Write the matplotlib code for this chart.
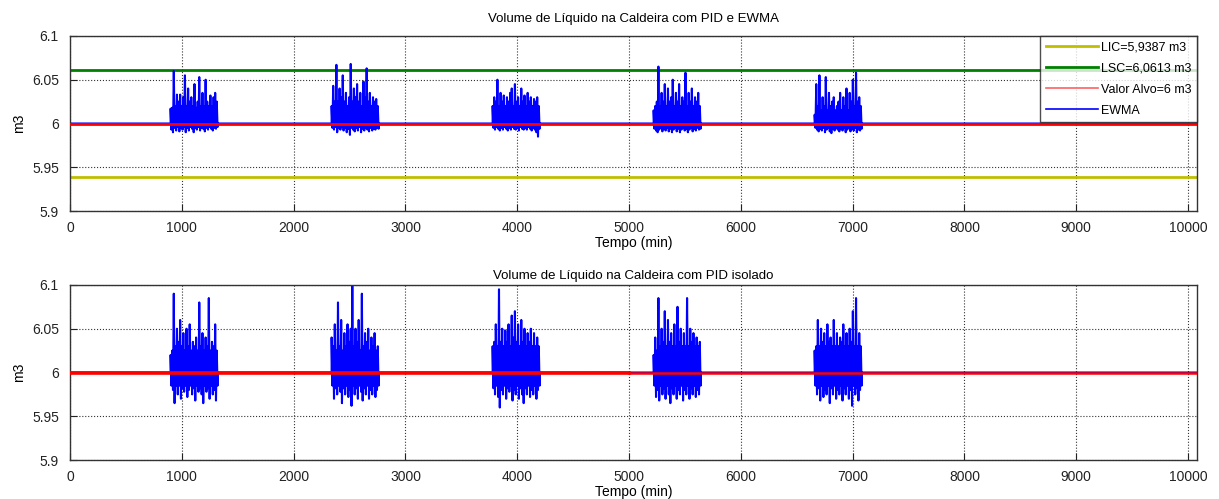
import numpy as np
import matplotlib.pyplot as plt

plt.rcParams['font.family'] = ['Liberation Sans', 'DejaVu Sans']

# control limits
lic = 5.9387
lsc = 6.0613
alvo = 6.0
t_max = 10080

# disturbance windows (min)
burst_start = [900, 2340, 3780, 5220, 6660]
burst_end = [1320, 2760, 4200, 5640, 7080]

# EWMA peaks (upper / lower per burst)
ewma_up = [
    [6.017, 6.018, 6.060, 6.020, 6.033, 6.025, 6.033, 6.020, 6.030, 6.055, 6.020, 6.040, 6.025, 6.030, 6.020,
     6.045, 6.018, 6.025, 6.053, 6.020, 6.035, 6.020, 6.050, 6.025, 6.020, 6.032, 6.020, 6.030, 6.035, 6.025],
    [6.020, 6.043, 6.025, 6.067, 6.025, 6.040, 6.030, 6.055, 6.025, 6.035, 6.020, 6.030, 6.068, 6.025, 6.040,
     6.030, 6.045, 6.025, 6.035, 6.020, 6.048, 6.030, 6.063, 6.025, 6.035, 6.020, 6.030, 6.025, 6.028, 6.020],
    [6.020, 6.030, 6.025, 6.050, 6.020, 6.035, 6.025, 6.032, 6.020, 6.030, 6.025, 6.035, 6.040, 6.020, 6.045,
     6.025, 6.030, 6.020, 6.040, 6.025, 6.032, 6.020, 6.035, 6.025, 6.030, 6.020, 6.028, 6.025, 6.030, 6.020],
    [6.015, 6.020, 6.025, 6.065, 6.020, 6.035, 6.025, 6.045, 6.020, 6.040, 6.025, 6.030, 6.050, 6.020, 6.035,
     6.025, 6.045, 6.020, 6.030, 6.025, 6.058, 6.020, 6.035, 6.025, 6.040, 6.020, 6.030, 6.025, 6.035, 6.020],
    [6.010, 6.045, 6.020, 6.055, 6.015, 6.030, 6.020, 6.053, 6.015, 6.035, 6.020, 6.025, 6.030, 6.015, 6.020,
     6.025, 6.035, 6.015, 6.030, 6.020, 6.040, 6.015, 6.035, 6.025, 6.050, 6.020, 6.058, 6.025, 6.030, 6.020],
]
ewma_lo = [
    [5.993, 5.990, 5.995, 5.992, 5.996, 5.991, 5.995, 5.993, 5.996, 5.990, 5.995, 5.992, 5.996, 5.994, 5.990,
     5.995, 5.993, 5.996, 5.992, 5.995, 5.994, 5.991, 5.995, 5.993, 5.996, 5.994, 5.992, 5.995, 5.994, 5.996],
    [5.995, 5.993, 5.996, 5.990, 5.995, 5.993, 5.996, 5.992, 5.995, 5.990, 5.994, 5.987, 5.995, 5.993, 5.991,
     5.995, 5.992, 5.996, 5.990, 5.994, 5.992, 5.995, 5.993, 5.991, 5.995, 5.992, 5.994, 5.993, 5.995, 5.994],
    [5.995, 5.993, 5.996, 5.994, 5.992, 5.995, 5.993, 5.996, 5.994, 5.992, 5.995, 5.993, 5.996, 5.994, 5.993,
     5.995, 5.992, 5.996, 5.994, 5.993, 5.995, 5.993, 5.996, 5.994, 5.992, 5.995, 5.993, 5.990, 5.985, 5.994],
    [5.994, 5.992, 5.990, 5.993, 5.995, 5.991, 5.994, 5.992, 5.995, 5.991, 5.994, 5.990, 5.993, 5.995, 5.991,
     5.994, 5.990, 5.993, 5.995, 5.992, 5.994, 5.990, 5.993, 5.995, 5.991, 5.994, 5.992, 5.995, 5.993, 5.994],
    [5.995, 5.993, 5.991, 5.994, 5.992, 5.995, 5.990, 5.993, 5.995, 5.991, 5.989, 5.994, 5.992, 5.995, 5.993,
     5.991, 5.994, 5.992, 5.995, 5.990, 5.993, 5.995, 5.991, 5.994, 5.992, 5.995, 5.990, 5.993, 5.992, 5.994],
]

# PID-only volume peaks
pid_up = [
    [6.020, 6.025, 6.090, 6.030, 6.050, 6.035, 6.060, 6.030, 6.045, 6.025, 6.050, 6.030, 6.055, 6.025, 6.035,
     6.030, 6.040, 6.025, 6.080, 6.030, 6.045, 6.025, 6.040, 6.030, 6.085, 6.025, 6.035, 6.030, 6.055, 6.025],
    [6.040, 6.030, 6.055, 6.025, 6.080, 6.030, 6.060, 6.025, 6.045, 6.030, 6.055, 6.035, 6.050, 6.100, 6.030,
     6.050, 6.035, 6.060, 6.025, 6.090, 6.030, 6.045, 6.035, 6.050, 6.025, 6.040, 6.030, 6.045, 6.025, 6.030],
    [6.030, 6.035, 6.055, 6.030, 6.095, 6.035, 6.050, 6.030, 6.048, 6.035, 6.055, 6.030, 6.065, 6.040, 6.070,
     6.035, 6.055, 6.030, 6.060, 6.035, 6.050, 6.030, 6.045, 6.035, 6.050, 6.030, 6.045, 6.030, 6.040, 6.030],
    [6.020, 6.040, 6.025, 6.085, 6.030, 6.050, 6.035, 6.070, 6.030, 6.060, 6.035, 6.045, 6.030, 6.055, 6.030,
     6.075, 6.035, 6.050, 6.030, 6.045, 6.030, 6.085, 6.030, 6.050, 6.035, 6.045, 6.030, 6.040, 6.030, 6.035],
    [6.025, 6.030, 6.060, 6.030, 6.050, 6.035, 6.045, 6.030, 6.055, 6.035, 6.040, 6.030, 6.060, 6.030, 6.045,
     6.030, 6.040, 6.035, 6.055, 6.030, 6.045, 6.030, 6.050, 6.035, 6.070, 6.030, 6.085, 6.030, 6.045, 6.030],
]
pid_lo = [
    [5.985, 5.980, 5.965, 5.985, 5.975, 5.985, 5.970, 5.982, 5.978, 5.985, 5.972, 5.980, 5.985, 5.975, 5.982,
     5.968, 5.985, 5.978, 5.982, 5.975, 5.965, 5.985, 5.978, 5.982, 5.970, 5.985, 5.975, 5.980, 5.968, 5.985],
    [5.985, 5.970, 5.982, 5.975, 5.985, 5.978, 5.965, 5.982, 5.975, 5.985, 5.972, 5.980, 5.962, 5.985, 5.975,
     5.982, 5.970, 5.985, 5.978, 5.968, 5.982, 5.975, 5.985, 5.970, 5.980, 5.975, 5.985, 5.972, 5.980, 5.985],
    [5.982, 5.975, 5.985, 5.972, 5.960, 5.980, 5.975, 5.985, 5.970, 5.982, 5.978, 5.985, 5.968, 5.980, 5.975,
     5.985, 5.970, 5.982, 5.975, 5.965, 5.982, 5.975, 5.985, 5.972, 5.980, 5.975, 5.985, 5.970, 5.980, 5.985],
    [5.985, 5.972, 5.980, 5.968, 5.985, 5.975, 5.982, 5.970, 5.985, 5.975, 5.965, 5.982, 5.975, 5.985, 5.970,
     5.980, 5.975, 5.985, 5.968, 5.980, 5.975, 5.985, 5.970, 5.982, 5.975, 5.985, 5.972, 5.980, 5.975, 5.985],
    [5.985, 5.975, 5.982, 5.968, 5.985, 5.972, 5.980, 5.975, 5.985, 5.965, 5.982, 5.975, 5.985, 5.970, 5.980,
     5.975, 5.985, 5.968, 5.982, 5.975, 5.985, 5.970, 5.980, 5.962, 5.985, 5.975, 5.982, 5.968, 5.980, 5.985],
]

x_ticks = [0, 1000, 2000, 3000, 4000, 5000, 6000, 7000, 8000, 9000, 10000]
y_ticks = [5.9, 5.95, 6.0, 6.05, 6.1]
y_labels = ['5.9', '5.95', '6', '6.05', '6.1']


def build_series(ups, los):
    # alternate upper/lower peaks inside each window, flat at target elsewhere
    t = [0.0]
    v = [alvo]
    for s, e, up, lo in zip(burst_start, burst_end, ups, los):
        vals = []
        for a, b in zip(up, lo):
            vals += [a, b]
        tt = np.linspace(s, e, len(vals))
        t += [s] + list(tt) + [e]
        v += [alvo] + vals + [alvo]
    t.append(t_max)
    v.append(alvo)
    return np.array(t), np.array(v)


def style_axes(ax):
    ax.set_xlim(0, t_max)
    ax.set_ylim(5.9, 6.1)
    ax.set_xticks(x_ticks)
    ax.set_xticklabels([str(x) for x in x_ticks])
    ax.set_yticks(y_ticks)
    ax.set_yticklabels(y_labels)
    ax.grid(True, linestyle=':', color='#333333', linewidth=0.8)
    ax.tick_params(axis='x', direction='in', length=5, labelsize=10, colors='#222222', pad=7)
    ax.tick_params(axis='y', direction='in', length=5, labelsize=10, colors='#222222', pad=8)
    for sp in ax.spines.values():
        sp.set_color('#333333')
        sp.set_linewidth(1.0)
    ax.set_ylabel('m3', fontsize=10, labelpad=4)
    ax.set_xlabel('Tempo (min)', fontsize=10, labelpad=1)


fig = plt.figure(figsize=(12.19, 4.99), dpi=100)
ax1 = fig.add_axes([0.0574, 0.577, 0.9246, 0.351])
ax2 = fig.add_axes([0.0574, 0.078, 0.9246, 0.351])

t1, v1 = build_series(ewma_up, ewma_lo)
ax1.plot([0, t_max], [lic, lic], color='#bfbf00', lw=2, label='LIC=5,9387 m3')
ax1.plot([0, t_max], [lsc, lsc], color='#008000', lw=2, label='LSC=6,0613 m3')
ax1.plot([0, t_max], [alvo, alvo], color='red', lw=2, label='Valor Alvo=6 m3', zorder=3)
ax1.plot(t1, v1, color='blue', lw=1.5, label='EWMA', zorder=2)
style_axes(ax1)
ax1.set_title('Volume de Líquido na Caldeira com PID e EWMA', fontsize=9.5, pad=10)
leg = ax1.legend(loc='upper right', fontsize=9, frameon=True, fancybox=False,
                 edgecolor='#222222', borderaxespad=0.0, handlelength=4.2,
                 labelspacing=0.72, borderpad=0.45, handletextpad=0.2)
leg.get_frame().set_linewidth(1.0)
for h in leg.get_lines()[2:]:
    h.set_linewidth(1.2)
leg.get_lines()[2].set_color('#ff6060')

t2, v2 = build_series(pid_up, pid_lo)
ax2.plot(t2, v2, color='blue', lw=1.5, zorder=2)
ax2.plot([0, 5000], [alvo, alvo], color='red', lw=2.6, zorder=3)
ax2.plot([5000, t_max], [alvo, alvo], color='red', lw=1.8, zorder=3)
style_axes(ax2)
ax2.set_title('Volume de Líquido na Caldeira com PID isolado', fontsize=9.5, pad=4)

fig.savefig('out.png', dpi=100, facecolor='white')
